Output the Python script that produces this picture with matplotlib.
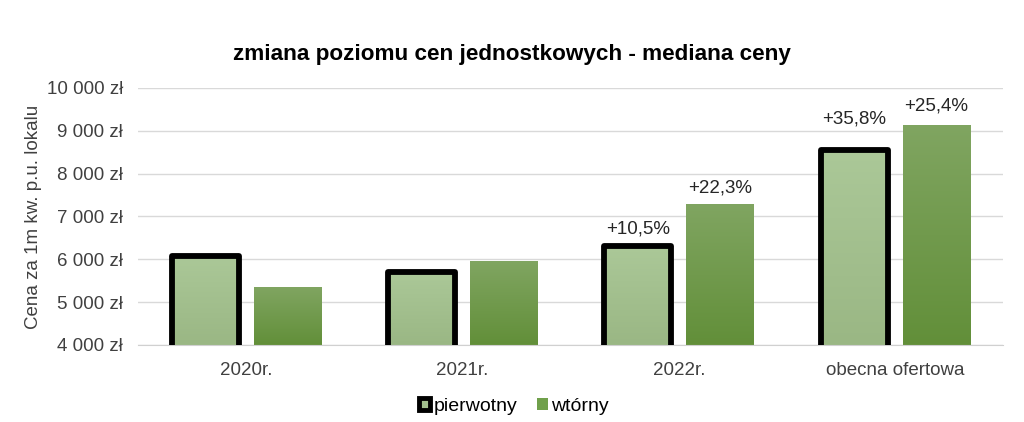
import matplotlib.pyplot as plt
import numpy as np
from matplotlib.colors import LinearSegmentedColormap

categories = ['2020r.', '2021r.', '2022r.', 'obecna ofertowa']
pierwotny = [6080, 5700, 6300, 8560]
wtorny = [5350, 5960, 7290, 9130]
labels_p = ['', '', '+10,5%', '+35,8%']
labels_w = ['', '', '+22,3%', '+25,4%']

plt.rcParams['font.family'] = ['Liberation Sans', 'DejaVu Sans']

cmap_p = LinearSegmentedColormap.from_list('p', ['#9ab784', '#abc898'])
cmap_w = LinearSegmentedColormap.from_list('w', ['#628f39', '#80a561'])

fig = plt.figure(figsize=(10.24, 4.22), dpi=100)
ax = fig.add_axes([0.1348, 0.1825, 0.845, 0.609])

x = np.arange(len(categories))
w = 0.31
off = 0.19

bars_p = ax.bar(x - off, pierwotny, w, bottom=0, color='none', zorder=3)
bars_w = ax.bar(x + off, wtorny, w, bottom=0, color='none', zorder=3)

grad = np.linspace(0, 1, 256).reshape(-1, 1)
for bars, cmap in [(bars_p, cmap_p), (bars_w, cmap_w)]:
    for b in bars:
        x0, y0 = b.get_x(), 4000
        x1, y1 = x0 + b.get_width(), b.get_height()
        im = ax.imshow(grad, extent=[x0, x1, y0, y1], origin='lower', aspect='auto',
                       cmap=cmap, zorder=2)
        im.set_clip_path(b)

# black outline on pierwotny
ax.bar(x - off, pierwotny, w, color='none', edgecolor='black', linewidth=4.2,
       joinstyle='round', zorder=4)

# label gaps above bars (data units), placed by hand like in the source chart
gap_p = [0, 0, 205, 520]
gap_w = [0, 0, 175, 250]
for i in range(len(categories)):
    if labels_p[i]:
        ax.text(x[i] - off, pierwotny[i] + gap_p[i], labels_p[i], ha='center', va='bottom',
                fontsize=13.5, color='#262626')
    if labels_w[i]:
        ax.text(x[i] + off, wtorny[i] + gap_w[i], labels_w[i], ha='center', va='bottom',
                fontsize=13.5, color='#262626')

ax.set_xlim(-0.5, 3.5)
ax.set_ylim(4000, 10000)
ticks = list(range(4000, 10001, 1000))
ax.set_yticks(ticks)
ax.set_yticklabels([f'{v // 1000} {v % 1000:03d} zł' for v in ticks])
ax.set_xticks(x)
ax.set_xticklabels(categories)
ax.tick_params(axis='both', length=0, labelsize=13.5, colors='#404040')
ax.tick_params(axis='y', pad=11)
ax.tick_params(axis='x', pad=12)
ax.yaxis.grid(True, color='#d9d9d9', linewidth=1, zorder=0)
ax.set_axisbelow(True)
for s in ['top', 'right', 'left']:
    ax.spines[s].set_visible(False)
ax.spines['bottom'].set_color('#d0d0d0')

ax.set_ylabel('Cena za 1m kw. p.u. lokalu', fontsize=13.5, color='#404040', labelpad=3)
fig.text(0.5, 0.872, 'zmiana poziomu cen jednostkowych - mediana ceny', fontsize=16.2,
         fontweight='bold', ha='center', va='center')

# legend proxies
hp = plt.Rectangle((0, 0), 1, 1, facecolor='#a2bf8d', edgecolor='black', linewidth=3.5)
hw = plt.Rectangle((0, 0), 1, 1, facecolor='#70a04b', edgecolor='none')
fig.legend([hp, hw], ['pierwotny', 'wtórny'], loc='center', ncol=2,
           bbox_to_anchor=(0.502, 0.037), frameon=False, fontsize=14,
           handlelength=0.55, handleheight=0.55, handletextpad=0.2, columnspacing=1.0)

fig.savefig('out.png', dpi=100)
